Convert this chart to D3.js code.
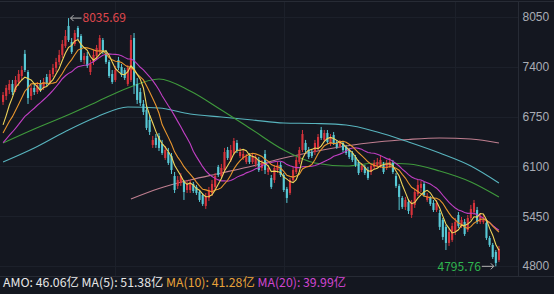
<!DOCTYPE html>
<html>
<head>
<meta charset="utf-8">
<script src="https://cdn.jsdelivr.net/npm/d3@7"></script>
<style>
  html, body { margin: 0; padding: 0; background: #141720; }
  svg { display: block; font-family: "Noto Sans CJK SC", "Noto Sans", sans-serif; }
</style>
</head>
<body>
<div id="chart"></div>
<script>
// daily candles (oldest first)
var opens = [6941,7019,7097,7176,7097,7202,7280,7568,7332,7019,
  7124,7071,7176,7124,7267,7202,7306,7385,7463,7555,
  7672,7933,7724,7698,7907,7802,7489,7542,7332,7463,
  7542,7594,7750,7581,7463,7306,7228,7489,7398,7358,
  7176,7228,7776,7176,7071,6915,6836,6706,6380,6471,
  6497,6393,6210,6288,6236,5975,5845,5884,5897,5792,
  5792,5871,5832,5766,5727,5584,5688,5753,5832,6093,
  5975,6053,6314,6184,6275,6406,6236,6210,6158,6236,
  6158,6132,6184,6080,6262,6027,5949,5923,6053,6119,
  5988,5806,5753,5923,6027,6158,6314,6406,6314,6288,
  6288,6341,6575,6445,6536,6393,6510,6419,6367,6406,
  6354,6314,6275,6223,6158,6053,6093,6053,6027,6093,
  6106,6106,6119,6080,6106,6145,5975,5845,5688,5571,
  5636,5466,5597,5740,5819,5871,5662,5688,5623,5531,
  5492,5401,5310,5101,5140,5244,5466,5323,5375,5270,
  5427,5505,5531,5375,5375,5362,5166,5075,4983,4879];
var highs = [7071,7163,7228,7228,7280,7358,7411,7620,7358,7163,
  7176,7202,7228,7254,7306,7358,7437,7516,7620,7750,
  7880,8035.69,7776,7880,7933,7828,7581,7594,7489,7620,
  7685,7815,7776,7620,7489,7358,7411,7529,7437,7385,
  7424,7815,7841,7254,7124,6967,6902,6771,6497,6523,
  6536,6445,6367,6341,6275,6027,5975,6014,5923,5923,
  5923,5897,5858,5792,5753,5753,5832,5923,6014,6119,
  6132,6341,6354,6380,6471,6445,6341,6314,6262,6275,
  6262,6249,6223,6184,6314,6119,5988,6119,6158,6158,
  6014,5832,5949,6093,6223,6354,6575,6445,6354,6314,
  6445,6523,6615,6575,6575,6523,6549,6445,6445,6432,
  6380,6341,6301,6249,6184,6145,6119,6093,6132,6184,
  6210,6236,6158,6184,6210,6184,6014,5871,5714,5701,
  5675,5662,5806,5923,5910,5897,5753,5714,5662,5662,
  5531,5427,5336,5284,5362,5427,5505,5440,5414,5466,
  5597,5662,5571,5492,5466,5401,5192,5101,5009,5062];
var lows = [6902,6967,7045,7032,7071,7150,7228,7332,6915,6967,
  7032,7045,7071,7097,7150,7163,7267,7332,7424,7516,
  7646,7724,7568,7672,7750,7463,7437,7385,7293,7424,
  7489,7568,7568,7437,7254,7176,7202,7358,7267,7228,
  7150,7202,7045,6915,6889,6771,6575,6510,6341,6341,
  6301,6249,6184,6119,6001,5753,5806,5845,5662,5753,
  5753,5753,5727,5636,5584,5545,5649,5714,5792,5962,
  5949,6027,6184,6158,6249,6275,6210,6184,6132,6132,
  6132,6093,6027,6040,6001,5988,5806,5884,6014,5962,
  5766,5623,5727,5897,6001,6132,6288,6288,6197,6210,
  6249,6314,6445,6419,6393,6367,6380,6328,6341,6288,
  6249,6197,6158,6093,5988,6027,5988,5923,5988,6067,
  6080,6080,6001,6053,6080,6001,5819,5531,5545,5531,
  5479,5427,5558,5714,5766,5701,5636,5584,5505,5505,
  5270,5140,5009,5062,5114,5205,5297,5297,5192,5244,
  5401,5466,5349,5349,5349,5140,5049,4892,4795.76,4853];
var closes = [7032,7124,7176,7071,7228,7306,7358,7358,6993,7124,
  7071,7163,7097,7202,7176,7306,7385,7463,7555,7698,
  7802,7750,7594,7841,7789,7489,7542,7411,7437,7555,
  7646,7776,7594,7463,7280,7202,7358,7385,7293,7254,
  7385,7750,7163,6967,6928,6810,6602,6549,6445,6380,
  6341,6275,6314,6145,6053,5792,5923,5975,5766,5871,
  5884,5779,5753,5662,5610,5714,5792,5871,5975,5988,
  6080,6288,6210,6314,6432,6314,6288,6262,6223,6158,
  6223,6210,6053,6145,6053,6080,5832,6080,6119,5988,
  5792,5688,5923,6053,6184,6314,6523,6314,6223,6236,
  6406,6484,6471,6536,6419,6484,6406,6354,6406,6314,
  6275,6223,6184,6119,6014,6106,6014,5949,6106,6145,
  6158,6184,6027,6145,6158,6027,5845,5701,5571,5662,
  5518,5623,5766,5858,5871,5727,5714,5610,5531,5623,
  5310,5179,5101,5244,5323,5375,5323,5401,5218,5427,
  5545,5623,5375,5453,5401,5166,5075,4918,4840,5023];
// closes before the visible window, used for the short averages
var preCloses = [6200,6230,6180,6260,6300,6280,6330,6310,6360,6400,
  6380,6420,6450,6430,6480,6520,6500,6560,6600];

// long averages at these candle indices
var longIdx = [0,10,20,30,40,50,60,70,80,90,100,110,120,130,140,150,159];
var ma60 = [6406,6589,6758,6941,7124,7241,7084,6836,6575,6314,6145,6106,6145,6132,6040,5897,5701];
var ma120 = [6158,6341,6556,6745,6876,6863,6784,6745,6706,6667,6660,6641,6549,6419,6275,6106,5884];
var ma250Idx = [41,50,60,70,80,90,100,110,120,130,140,150,159];
var ma250 = [5675,5812,5923,6014,6106,6210,6295,6367,6419,6452,6471,6458,6406];

var yTicks = [8050, 7400, 6750, 6100, 5450, 4800];
var gridIdx = [36, 90, 145];

var legendParts = [
  { text: "AMO: 46.06亿 ", color: "#e6e6e6" },
  { text: "MA(5): 51.38亿 ", color: "#e6e6e6" },
  { text: "MA(10): 41.28亿 ", color: "#e8a23a" },
  { text: "MA(20): 39.99亿", color: "#cf45cf" }
];

var width = 554, height = 294;
var axisX = 518.5;
var upColor = "#d7333b", downColor = "#58c9d6";

var svg = d3.select("#chart").append("svg")
  .attr("width", width)
  .attr("height", height);

svg.append("rect").attr("width", width).attr("height", height).attr("fill", "#141720");

var n = closes.length;
var x = d3.scaleBand().domain(d3.range(n)).range([1, 501]).padding(0.32);
var cx = function(i) { return x(i) + x.bandwidth() / 2; };
var y = d3.scaleLinear().domain([4800, 8050]).range([266, 17]);

// grid
svg.append("g").selectAll("line").data(yTicks).enter().append("line")
  .attr("x1", 0).attr("x2", axisX)
  .attr("y1", function(d) { return Math.round(y(d)) + 0.5; })
  .attr("y2", function(d) { return Math.round(y(d)) + 0.5; })
  .attr("stroke", "#1c202a");
svg.append("g").selectAll("line").data(gridIdx).enter().append("line")
  .attr("x1", function(d) { return Math.round(cx(d)) + 0.5; })
  .attr("x2", function(d) { return Math.round(cx(d)) + 0.5; })
  .attr("y1", 2).attr("y2", 276)
  .attr("stroke", "#1c202a");

// frame
svg.append("line").attr("x1", 0).attr("x2", width).attr("y1", 1.5).attr("y2", 1.5).attr("stroke", "#272b35");
svg.append("line").attr("x1", 0).attr("x2", width).attr("y1", 276.5).attr("y2", 276.5).attr("stroke", "#272b35");
svg.append("line").attr("x1", axisX).attr("x2", axisX).attr("y1", 1).attr("y2", 277).attr("stroke", "#272b35");

// moving averages
var allCloses = preCloses.concat(closes);
function movingAvg(period) {
  return closes.map(function(c, i) {
    var end = i + preCloses.length + 1;
    return d3.mean(allCloses.slice(end - period, end));
  });
}

var line = d3.line()
  .x(function(d) { return cx(d[0]); })
  .y(function(d) { return y(d[1]); });
var smooth = d3.line()
  .x(function(d) { return cx(d[0]); })
  .y(function(d) { return y(d[1]); })
  .curve(d3.curveMonotoneX);

var lines = [
  { pts: d3.zip(ma250Idx, ma250), color: "#c07f90", gen: smooth },
  { pts: d3.zip(longIdx, ma120), color: "#58b4be", gen: smooth },
  { pts: d3.zip(longIdx, ma60), color: "#3f9a3c", gen: smooth }
];

var g = svg.append("g");

lines.forEach(function(l) {
  g.append("path").attr("d", l.gen(l.pts))
    .attr("fill", "none").attr("stroke", l.color).attr("stroke-width", 1.1);
});

// candles
var candles = g.append("g").selectAll("g").data(d3.range(n)).enter().append("g");
candles.append("line")
  .attr("x1", function(i) { return cx(i); })
  .attr("x2", function(i) { return cx(i); })
  .attr("y1", function(i) { return y(highs[i]); })
  .attr("y2", function(i) { return y(lows[i]); })
  .attr("stroke", function(i) { return closes[i] >= opens[i] ? upColor : downColor; })
  .attr("stroke-width", 1);
candles.append("rect")
  .attr("x", function(i) { return x(i); })
  .attr("width", x.bandwidth())
  .attr("y", function(i) { return y(Math.max(opens[i], closes[i])); })
  .attr("height", function(i) { return Math.max(1, Math.abs(y(opens[i]) - y(closes[i]))); })
  .attr("fill", function(i) { return closes[i] >= opens[i] ? upColor : downColor; });

var shortLines = [
  { period: 20, color: "#c13fc4" },
  { period: 10, color: "#e8962e" },
  { period: 5, color: "#efd45a" }
];
shortLines.forEach(function(l) {
  var vals = movingAvg(l.period);
  g.append("path").attr("d", line(vals.map(function(v, i) { return [i, v]; })))
    .attr("fill", "none").attr("stroke", l.color).attr("stroke-width", 1.1);
});

// right axis
var axis = svg.append("g")
  .attr("transform", "translate(" + axisX + ",0)")
  .call(d3.axisRight(y).tickValues(yTicks).tickSize(0).tickPadding(4).tickFormat(d3.format("d")));
axis.select(".domain").remove();
axis.selectAll("text").attr("fill", "#a9adb5").attr("font-size", 12).attr("font-family", null);

// max / min markers
var iMax = d3.maxIndex(highs), iMin = d3.minIndex(lows);
var hx = cx(iMax), hy = y(highs[iMax]);
svg.append("path")
  .attr("d", "M" + (hx + 2) + "," + hy + "H" + (hx + 13) + "M" + (hx + 5) + "," + (hy - 3) + "L" + (hx + 2) + "," + hy + "L" + (hx + 5) + "," + (hy + 3))
  .attr("fill", "none").attr("stroke", "#b5b5b5");
svg.append("text").attr("x", hx + 14).attr("y", hy).attr("dy", "0.35em")
  .attr("fill", "#e0474c").attr("font-size", 12).text(d3.format(".2f")(highs[iMax]));

var lx = cx(iMin), ly = y(lows[iMin]);
svg.append("path")
  .attr("d", "M" + (lx - 2) + "," + ly + "H" + (lx - 14) + "M" + (lx - 5) + "," + (ly - 3) + "L" + (lx - 2) + "," + ly + "L" + (lx - 5) + "," + (ly + 3))
  .attr("fill", "none").attr("stroke", "#b5b5b5");
svg.append("text").attr("x", lx - 15).attr("y", ly).attr("dy", "0.35em").attr("text-anchor", "end")
  .attr("fill", "#2fb64f").attr("font-size", 12).text(d3.format(".2f")(lows[iMin]));

// legend
var legend = svg.append("text").attr("x", 3).attr("y", 287).attr("font-size", 12.3).attr("xml:space", "preserve");
legendParts.forEach(function(p) {
  legend.append("tspan").attr("fill", p.color).text(p.text);
});
</script>
</body>
</html>
